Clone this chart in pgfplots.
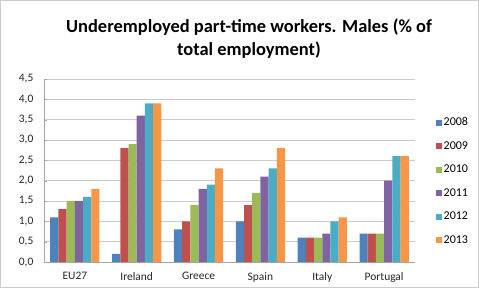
\documentclass[border=0pt]{standalone}
\usepackage{pgfplots}
\pgfplotsset{compat=1.18}
\usepackage{fontspec}
\setmainfont{Carlito}
\definecolor{c1}{HTML}{4F81BD}
\definecolor{c2}{HTML}{C0504D}
\definecolor{c3}{HTML}{9BBB59}
\definecolor{c4}{HTML}{8064A2}
\definecolor{c5}{HTML}{4BACC6}
\definecolor{c6}{HTML}{F79646}
\begin{document}
\begin{tikzpicture}[x=1bp,y=1bp]
\draw[gray!40, line width=0.8bp] (0.5,0.5) rectangle (478.5,287.5);
\node[font=\bfseries\fontsize{18.5}{23}\selectfont, align=center] at (249,249) {Underemployed part-time workers. Males (\% of\\total employment)};
\begin{axis}[
  at={(44bp,26bp)}, anchor=south west,
  scale only axis, width=371bp, height=183bp,
  ybar=0pt, bar width=8.2bp,
  xmin=-0.5, xmax=5.5, ymin=0, ymax=4.5,
  xtick={0,1,2,3,4,5},
  xticklabels={EU27,Ireland,Greece,Spain,Italy,Portugal},
  ytick={0,0.5,1,1.5,2,2.5,3,3.5,4,4.5},
  yticklabels={{0,0},{0,5},{1,0},{1,5},{2,0},{2,5},{3,0},{3,5},{4,0},{4,5}},
  ticklabel style={font=\fontsize{11.5}{13}\selectfont, text=black!85},
  axis x line*=bottom, axis y line*=left,
  axis line style={gray!70},
  x tick style={draw=none},
  y tick style={gray!70}, major tick length=3bp,
  ymajorgrids, grid style={gray!40, line width=0.6bp},
  xticklabel style={yshift=-4bp},
  yticklabel style={xshift=-7bp},
  legend style={at={(1.055,0.80)}, anchor=north west, draw=none, fill=none,
    font=\fontsize{12}{14}\selectfont, row sep=10.2bp, inner sep=0pt},
  legend cell align=left,
  legend image code/.code={\fill[#1] (0bp,-3bp) rectangle (6bp,3bp);},
  every axis plot/.append style={draw=none},
]
\addplot[fill=c1] coordinates {(0,1.1) (1,0.2) (2,0.8) (3,1.0) (4,0.6) (5,0.7)};
\addplot[fill=c2] coordinates {(0,1.3) (1,2.8) (2,1.0) (3,1.4) (4,0.6) (5,0.7)};
\addplot[fill=c3] coordinates {(0,1.5) (1,2.9) (2,1.4) (3,1.7) (4,0.6) (5,0.7)};
\addplot[fill=c4] coordinates {(0,1.5) (1,3.6) (2,1.8) (3,2.1) (4,0.7) (5,2.0)};
\addplot[fill=c5] coordinates {(0,1.6) (1,3.9) (2,1.9) (3,2.3) (4,1.0) (5,2.6)};
\addplot[fill=c6] coordinates {(0,1.8) (1,3.9) (2,2.3) (3,2.8) (4,1.1) (5,2.6)};
\legend{2008,2009,2010,2011,2012,2013}
\end{axis}
\end{tikzpicture}
\end{document}
